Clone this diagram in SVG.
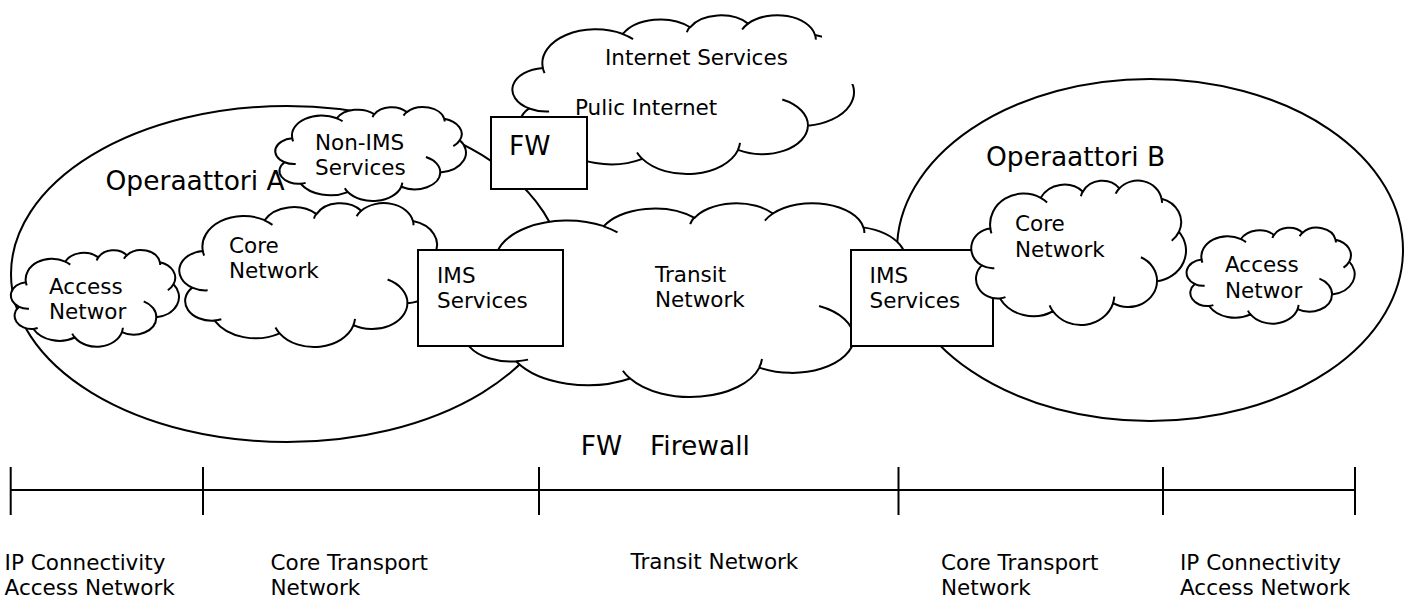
<svg xmlns="http://www.w3.org/2000/svg" xmlns:xlink="http://www.w3.org/1999/xlink" width="1408" height="600" viewBox="0 0 1408 600">
  <style>
    text { font-family: "DejaVu Sans", Verdana, sans-serif; fill: #000; }
    .lbl { font-size: 21.5px; }
    .big { font-size: 26.5px; }
    .outline { fill: #fff; stroke: #000; stroke-width: 2; }
    .cloud-body { fill: #fff; stroke: #000; stroke-width: 2; stroke-linejoin: round; vector-effect: non-scaling-stroke; }
    .cloud-fold { fill: none; stroke: #000; stroke-width: 2; stroke-linecap: butt; vector-effect: non-scaling-stroke; }
    .axis { fill: none; stroke: #000; stroke-width: 2; }
  </style>
  <defs>
    <!-- cloud outline in a 21600 x 21600 box, scaled per node -->
    <g id="cloud">
      <path class="cloud-body" d="M1950,7185 A2172.5,2972.5 0 0 0 1080,12690 A2180,2959 0 0 0 2910,17640 A3860,5271.5 0 0 0 8235,19545 A3376,4607.5 0 0 0 14280,18330 A2892.5,3933.5 0 0 0 18690,15045 A3387.5,4610 0 0 0 20895,7665 A2666.5,3636.5 0 0 0 19140,2715 A2428.5,3297.5 0 0 0 14910,1170 A2182.5,2972.5 0 0 0 11250,1665 A2666.5,3633.5 0 0 0 7005,2580 A3376.5,4595 0 0 0 1950,7185 Z"/>
      <path class="cloud-fold" d="M1074.5,12702.8 A2172.5,2972.5 0 0 0 2341.3,13101.1 M2909.2,17629.6 A2180,2959 0 0 0 3463.3,17439 M7895.6,18680 A3376,4607.5 0 0 0 8229.2,19549.9 M14267.2,18324.3 A3376,4607.5 0 0 0 14400.5,17370.1 M18695,15045 A2892.5,3933.5 0 0 0 17069.1,11477.3 M20165.3,8999.5 A2666.5,3636.5 0 0 0 20888.8,7661.3 M19186.7,3344.7 A2428.5,3297.5 0 0 0 19148.2,2712.9 M14906.3,1165.7 A2428.5,3297.5 0 0 0 14535.2,1971.2 M11221.4,1645.6 A2182.5,2972.5 0 0 0 11042,2340.5 M7645.3,3276.5 A3376.5,4595 0 0 0 6995.7,2602 M1943.4,7186.4 A3376.5,4595 0 0 0 2056.2,7895.4"/>
    </g>
    <!-- the internet cloud is cut off at its upper right corner -->
    <clipPath id="internet-cut" clipPathUnits="userSpaceOnUse">
      <path d="M0,0 H822 V84 H1000 V0 H1408 V600 H0 Z"/>
    </clipPath>
  </defs>

  <!-- operator domains -->
  <g id="operator-a">
    <ellipse class="outline" cx="287" cy="274" rx="276" ry="168"/>
    <text class="big" x="105.5" y="190">Operaattori A</text>
  </g>
  <g id="operator-b">
    <ellipse class="outline" cx="1150" cy="250" rx="253" ry="171"/>
    <text class="big" x="986" y="165.5">Operaattori B</text>
  </g>

  <!-- clouds -->
  <g id="public-internet">
    <g clip-path="url(#internet-cut)">
      <use href="#cloud" xlink:href="#cloud" transform="translate(512,15) scale(0.0158333,0.0073611)"/>
    </g>
    <text class="lbl" x="605" y="65">Internet Services</text>
    <text class="lbl" x="575" y="115">Pulic Internet</text>
  </g>
  <g id="transit-network">
    <use href="#cloud" xlink:href="#cloud" transform="translate(454,203) scale(0.0213889,0.0089815)"/>
    <text class="lbl" x="655" y="281.7">Transit</text>
    <text class="lbl" x="655" y="306.7">Network</text>
  </g>
  <g id="core-network-a">
    <use href="#cloud" xlink:href="#cloud" transform="translate(179,203) scale(0.0122222,0.0066667)"/>
    <text class="lbl" x="229" y="253.3">Core</text>
    <text class="lbl" x="229" y="278.3">Network</text>
  </g>
  <g id="access-network-a">
    <use href="#cloud" xlink:href="#cloud" transform="translate(10.7,250) scale(0.0077917,0.0044769)"/>
    <text class="lbl" x="49" y="293.5">Access</text>
    <text class="lbl" x="49" y="318.5">Networ</text>
  </g>
  <g id="non-ims-services">
    <use href="#cloud" xlink:href="#cloud" transform="translate(275,107) scale(0.0088426,0.0043519)"/>
    <text class="lbl" x="315" y="150">Non-IMS</text>
    <text class="lbl" x="315" y="175">Services</text>
  </g>
  <g id="access-network-b">
    <use href="#cloud" xlink:href="#cloud" transform="translate(1186.4,227.6) scale(0.0077917,0.0044444)"/>
    <text class="lbl" x="1225" y="271.6">Access</text>
    <text class="lbl" x="1225" y="297.5">Networ</text>
  </g>

  <!-- boxes -->
  <g id="firewall">
    <rect class="outline" x="491" y="117" width="96" height="72"/>
    <text class="big" x="509" y="155">FW</text>
  </g>
  <g id="ims-services-a">
    <rect class="outline" x="418" y="250" width="145" height="96"/>
    <text class="lbl" x="437" y="282.5">IMS</text>
    <text class="lbl" x="437" y="307.5">Services</text>
  </g>
  <g id="ims-services-b">
    <rect class="outline" x="851" y="250" width="142" height="96"/>
    <text class="lbl" x="869.6" y="282.5">IMS</text>
    <text class="lbl" x="869.6" y="307.5">Services</text>
  </g>
  <g id="core-network-b">
    <use href="#cloud" xlink:href="#cloud" transform="translate(971,180.5) scale(0.0099537,0.0066898)"/>
    <text class="lbl" x="1015" y="231.2">Core</text>
    <text class="lbl" x="1015" y="256.5">Network</text>
  </g>

  <!-- legend -->
  <g id="legend">
    <text class="big" x="580.8" y="455">FW<tspan x="650">Firewall</tspan></text>
  </g>

  <!-- segment scale along the bottom -->
  <g id="segment-axis">
    <path class="axis" d="M10.7,490 H1355 M10.7,467 V515 M203,467 V515 M539,467 V515 M898.5,467 V515 M1163,467 V515 M1355,467 V515"/>
    <text class="lbl" x="4.6" y="570">IP Connectivity</text>
    <text class="lbl" x="4.6" y="595">Access Network</text>
    <text class="lbl" x="270.5" y="570">Core Transport</text>
    <text class="lbl" x="270.5" y="595">Network</text>
    <text class="lbl" x="630.5" y="569">Transit Network</text>
    <text class="lbl" x="941" y="570">Core Transport</text>
    <text class="lbl" x="941" y="595">Network</text>
    <text class="lbl" x="1180" y="570">IP Connectivity</text>
    <text class="lbl" x="1180" y="595">Access Network</text>
  </g>
</svg>
